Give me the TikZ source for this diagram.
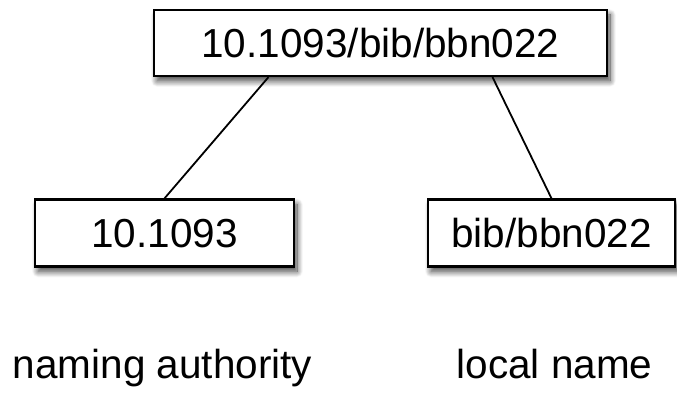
\documentclass[tikz,border=0pt]{standalone}
\usepackage{fontspec}
\setmainfont{Liberation Sans}
\usetikzlibrary{shadows.blur}
\begin{document}
\begin{tikzpicture}[x=1pt,y=-1pt,
  box/.style={draw=black,line width=2.2pt,fill=white,inner sep=0pt,
    minimum height=67pt,text height=29pt,text depth=0pt,
    font=\fontsize{40.5}{44}\selectfont,
    blur shadow={shadow xshift=3pt,shadow yshift=-5pt,shadow blur radius=6pt,shadow blur steps=14,shadow opacity=75}},
  lbl/.style={font=\fontsize{40.5}{44}\selectfont,inner sep=0pt,anchor=base},
  conn/.style={line width=1.8pt}]
\useasboundingbox (0,0) rectangle (677,395);
\node[box,minimum width=453pt,minimum height=66pt] (top) at (380.5,43) {10.1093/bib/bbn022};
\node[box,minimum width=259pt] (left) at (164.5,233) {10.1093};
\node[box,minimum width=247pt] (right) at (551.5,233) {bib/bbn022};
\draw[conn] ([xshift=-112pt]top.south) -- (left.north);
\draw[conn] ([xshift=112pt]top.south) -- (right.north);
\node[lbl] (na) at (162.5,378) {naming authority};
\node[lbl] (ln) at (554.5,378) {local name};
\end{tikzpicture}
\end{document}
